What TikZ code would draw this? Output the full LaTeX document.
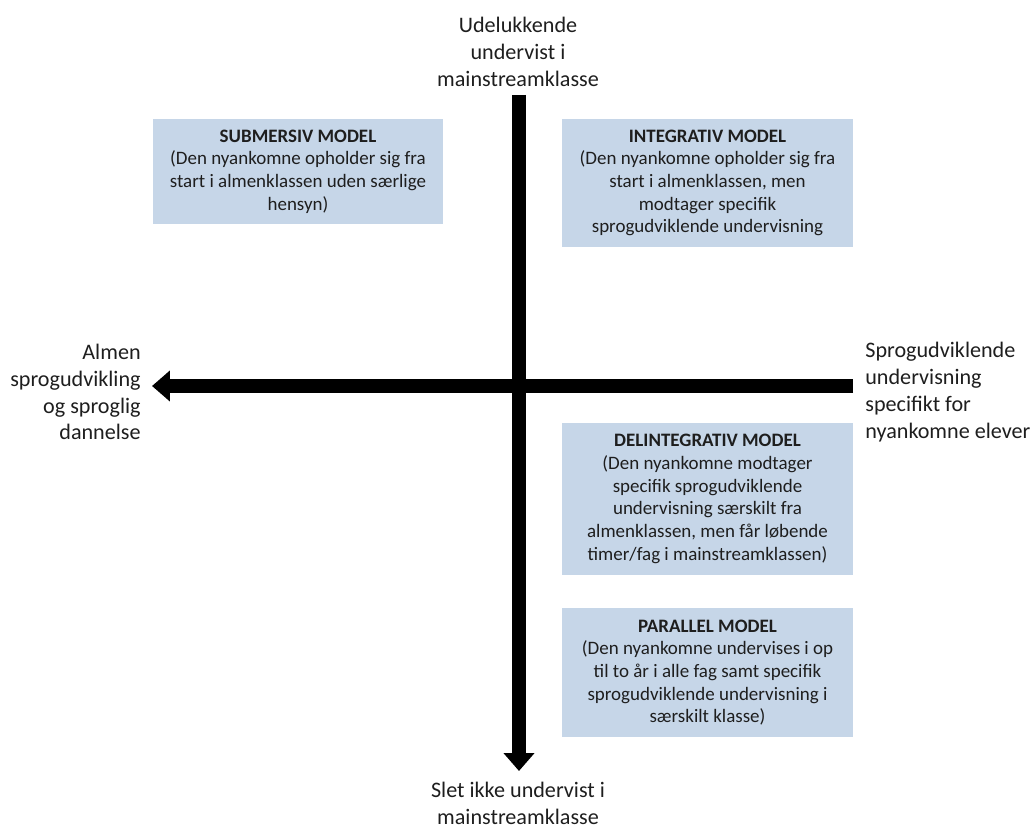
\documentclass[tikz,border=0pt]{standalone}
\usepackage{fontspec}
\setmainfont{Carlito}
\usetikzlibrary{arrows.meta}
\definecolor{boxblue}{RGB}{198,214,232}
\definecolor{txtgray}{RGB}{30,30,30}
\begin{document}
\begin{tikzpicture}
[x=0.02cm, y=-0.02cm, font=\fontsize{12.6}{15.3}\selectfont, text=txtgray]

\tikzstyle{model}=[fill=boxblue, align=center, inner sep=0pt, minimum width=5.82cm, font=\fontsize{10.8}{12.9}\selectfont]
\tikzstyle{axis}=[line width=0.28cm, -{Triangle[length=0.36cm, width=0.6cm]}]
\tikzstyle{pole}=[inner sep=0pt]

\useasboundingbox (0,0) rectangle (1034,827);

% axes
\coordinate (vtop) at (519,95);
\coordinate (vbot) at (519,771);
\coordinate (hright) at (853,386);
\coordinate (hleft) at (152,386);
\draw [axis] (vtop) -- (vbot);
\draw [axis] (hright) -- (hleft);

% poles
\node[pole, align=center]	(top)	at (518,52)	{Udelukkende\\undervist i\\mainstreamklasse};
\node[pole, align=center]	(bottom)	at (518,803)	{Slet ikke undervist i\\mainstreamklasse};
\node[pole, align=right, anchor=east]	(left)	at (141,392)	{Almen\\sprogudvikling\\og sproglig\\dannelse};
\node[pole, align=left, anchor=west]	(right)	at (865,392)	{Sprogudviklende\\undervisning\\specifikt for\\nyankomne elever};

% models
\node[model, minimum height=2.1cm]	(submersiv)	at (298,171.5)	{\textbf{SUBMERSIV MODEL}\\(Den nyankomne opholder sig fra\\start i almenklassen uden særlige\\hensyn)};
\node[model, minimum height=2.56cm]	(integrativ)	at (707.5,183)	{\textbf{INTEGRATIV MODEL}\\(Den nyankomne opholder sig fra\\start i almenklassen, men\\modtager specifik\\sprogudviklende undervisning};
\node[model, minimum height=3.04cm]	(delintegrativ)	at (707.5,499)	{\textbf{DELINTEGRATIV MODEL}\\(Den nyankomne modtager\\specifik sprogudviklende\\undervisning særskilt fra\\almenklassen, men får løbende\\timer/fag i mainstreamklassen)};
\node[model, minimum height=2.58cm]	(parallel)	at (707.5,672.5)	{\textbf{PARALLEL MODEL}\\(Den nyankomne undervises i op\\til to år i alle fag samt specifik\\sprogudviklende undervisning i\\særskilt klasse)};
\end{tikzpicture}
\end{document}
